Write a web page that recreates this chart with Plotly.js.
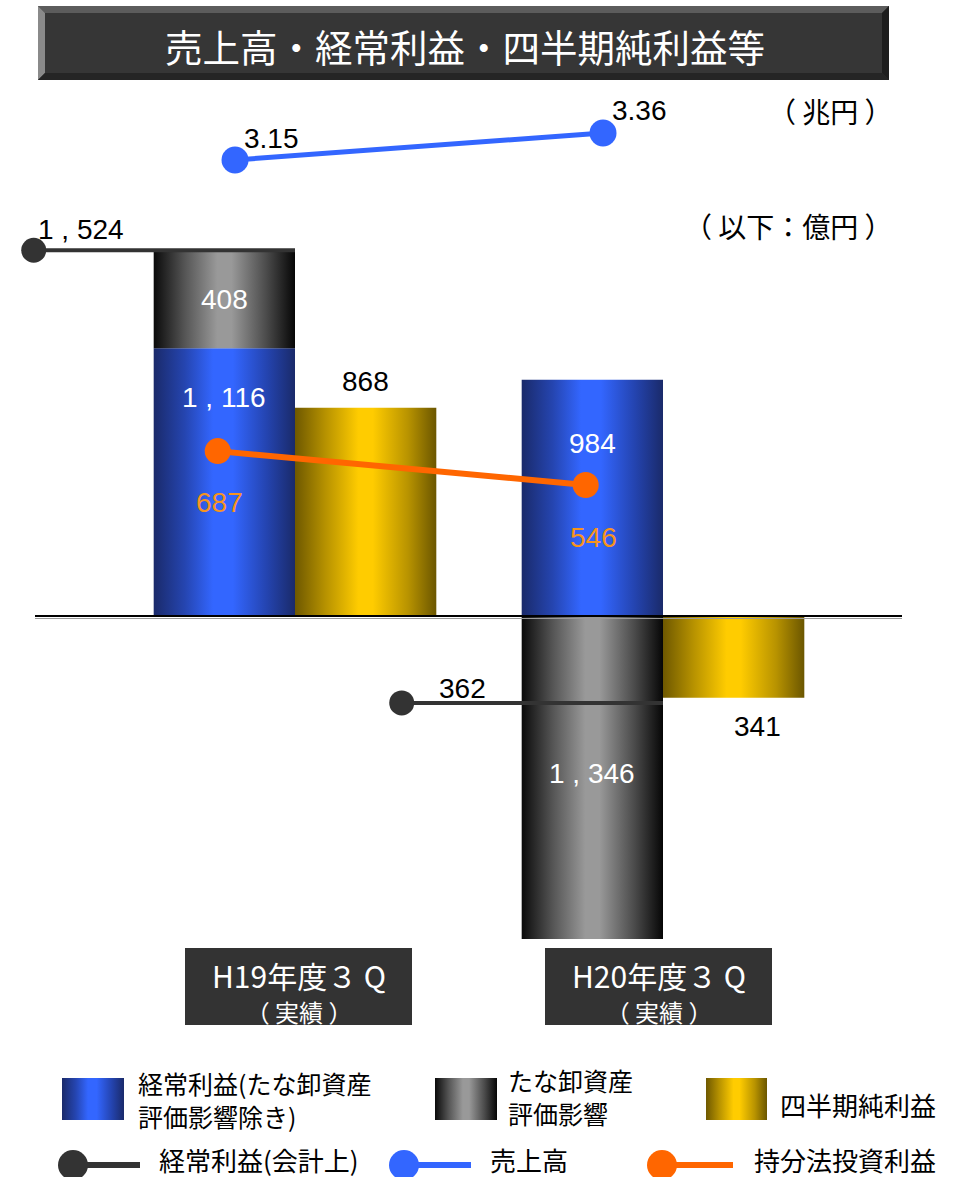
<!DOCTYPE html>
<html>
<head>
<meta charset="utf-8">
<script src="https://cdn.plot.ly/plotly-3.0.1.min.js"></script>
<style>
html,body{margin:0;padding:0;background:#fff;}
#chart{width:955px;height:1177px;}
</style>
</head>
<body>
<div id="chart"></div>
<script>
// ---------------- data ----------------
const categories = ['H19年度３ Q', 'H20年度３ Q'];
const categorySub = ['（ 実績 ）', '（ 実績 ）'];
const ordinaryExInventory = [1116, 984];   // 経常利益(たな卸資産評価影響除き) 億円
const inventoryImpact = [408, -1346];      // たな卸資産評価影響 億円
const quarterlyNetIncome = [868, -341];    // 四半期純利益 億円
const ordinaryAccounting = [1524, -362];   // 経常利益(会計上) 億円
const sales = [3.15, 3.36];                // 売上高 兆円
const equityIncome = [687, 546];           // 持分法投資利益 億円
const seriesNames = ['経常利益(たな卸資産<br>評価影響除き)', 'たな卸資産<br>評価影響', '四半期純利益',
                     '経常利益(会計上)', '売上高', '持分法投資利益'];
const titleText = '売上高・経常利益・四半期純利益等';
const unitTrillion = '（ 兆円 ）';
const unitHundredMillion = '（ 以下：億円 ）';

// ---------------- geometry / style ----------------
const W = 955, H = 1177;
const PX_X = 368;          // px per category step
const CAT0_PX = 295;       // pixel x of first category
const ZERO_PX = 616;       // pixel y of 0
const PX_Y = 0.24;         // px per 億円
const PX_Y2 = 27 / 0.21;   // px per 兆円
const Y2_REF_PX = 160;     // sales axis reference
const BW = 0.384;          // bar width (category units)
const F = '"Liberation Sans", "Noto Sans CJK JP", sans-serif';
const FJ = '"Noto Sans CJK JP", "Liberation Sans", sans-serif';

const PH_BLUE = '#3366fe', PH_GRAY = '#979797', PH_YEL = '#ffcc01'; // gradient placeholders

const xi = categories.map((_, i) => i);
const px = v => v / W;
const py = v => 1 - v / H;

const xRange = [-CAT0_PX / PX_X, (W - CAT0_PX) / PX_X];
const yRange = [(ZERO_PX - H) / PX_Y, ZERO_PX / PX_Y];
const y2Top = sales[0] + Y2_REF_PX / PX_Y2;
const y2Range = [y2Top - H / PX_Y2, y2Top];

const invBase = inventoryImpact.map((v, i) => v >= 0 ? ordinaryExInventory[i] : 0);
const fmt = v => Math.abs(v).toLocaleString('en-US').replace(',', ' , ');

// ---------------- traces ----------------
const traces = [
  {type: 'bar', name: seriesNames[0], x: xi, y: ordinaryExInventory, width: BW, offset: -BW,
   marker: {color: PH_BLUE, line: {width: 0}}, showlegend: false},
  {type: 'bar', name: seriesNames[1], x: xi, y: inventoryImpact, base: invBase, width: BW, offset: -BW,
   marker: {color: PH_GRAY, line: {width: 0}}, showlegend: false},
  {type: 'bar', name: seriesNames[2], x: xi, y: quarterlyNetIncome, width: BW, offset: 0,
   marker: {color: PH_YEL, line: {width: 0}}, showlegend: false},
  {type: 'scatter', mode: 'lines', name: seriesNames[3],
   x: xi.flatMap(i => [i - 0.71, i, null]),
   y: ordinaryAccounting.flatMap(v => [v, v, null]),
   line: {color: '#333333', width: 4}, cliponaxis: false, showlegend: false},
  {type: 'scatter', mode: 'markers', name: seriesNames[3],
   x: xi.map(i => i - 0.71), y: ordinaryAccounting,
   marker: {color: '#333333', size: 25, opacity: 1, line: {width: 0}},
   cliponaxis: false, showlegend: false},
  {type: 'scatter', mode: 'lines+markers', name: seriesNames[5],
   x: xi.map(i => i - 0.21), y: equityIncome,
   line: {color: '#ff6600', width: 6}, marker: {color: '#ff6600', size: 26, opacity: 1},
   cliponaxis: false, showlegend: false},
  {type: 'scatter', mode: 'lines+markers', name: seriesNames[4], yaxis: 'y2',
   x: xi.map(i => i - 0.163), y: sales,
   line: {color: '#3366ff', width: 5}, marker: {color: '#3366ff', size: 27, opacity: 1},
   cliponaxis: false, showlegend: false}
];

// ---------------- annotations ----------------
function ann(o) {
  return Object.assign({showarrow: false, xanchor: 'center', yanchor: 'middle',
    font: {family: F, size: 28, color: '#000'}}, o);
}
const annotations = [];
// title
annotations.push(ann({xref: 'paper', yref: 'paper', x: px(465), y: py(45), text: titleText,
  font: {family: FJ, size: 37.5, color: '#ffffff'}}));
// units
annotations.push(ann({xref: 'paper', yref: 'paper', x: px(895), y: py(111), xanchor: 'right',
  text: unitTrillion, font: {family: FJ, size: 28, color: '#000'}}));
annotations.push(ann({xref: 'paper', yref: 'paper', x: px(895), y: py(226), xanchor: 'right',
  text: unitHundredMillion, font: {family: FJ, size: 28, color: '#000'}}));

const accShift = [[47, 21], [61, 14]];
const invShift = [0, 4];
const exShift = [-49, -64];
const netShift = [[0, 26], [24, -29]];
const eqShift = [[2, -51], [8, -53]];
const salesShift = [[36, 22], [36, 23]];

xi.forEach(i => {
  annotations.push(ann({xref: 'x', yref: 'y', x: i - 0.71, y: ordinaryAccounting[i],
    xshift: accShift[i][0], yshift: accShift[i][1], text: fmt(ordinaryAccounting[i])}));
  annotations.push(ann({xref: 'x', yref: 'y', x: i - BW / 2, y: invBase[i] + inventoryImpact[i] / 2,
    yshift: invShift[i], text: fmt(inventoryImpact[i]), font: {family: F, size: 28, color: '#ffffff'}}));
  annotations.push(ann({xref: 'x', yref: 'y', x: i - BW / 2, y: ordinaryExInventory[i],
    yshift: exShift[i], text: fmt(ordinaryExInventory[i]), font: {family: F, size: 28, color: '#ffffff'}}));
  annotations.push(ann({xref: 'x', yref: 'y', x: i + BW / 2, y: quarterlyNetIncome[i],
    xshift: netShift[i][0], yshift: netShift[i][1], text: fmt(quarterlyNetIncome[i])}));
  annotations.push(ann({xref: 'x', yref: 'y', x: i - 0.21, y: equityIncome[i],
    xshift: eqShift[i][0], yshift: eqShift[i][1], text: fmt(equityIncome[i]),
    font: {family: F, size: 28, color: '#f7941d'}}));
  annotations.push(ann({xref: 'x', yref: 'y2', x: i - 0.163, y: sales[i],
    xshift: salesShift[i][0], yshift: salesShift[i][1], text: sales[i].toFixed(2)}));
});

// ---------------- shapes ----------------
const shapes = [];
function rectPx(x0, y0, x1, y1, fill, layer) {
  shapes.push({type: 'rect', xref: 'paper', yref: 'paper', x0: px(x0), x1: px(x1), y0: py(y0), y1: py(y1),
    fillcolor: fill, line: {width: 0}, layer: layer || 'above'});
}
function polyPx(pts, fill) {
  const d = pts.map((p, k) => (k ? 'L' : 'M') + px(p[0]) + ',' + py(p[1])).join(' ') + ' Z';
  shapes.push({type: 'path', xref: 'paper', yref: 'paper', path: d, fillcolor: fill, line: {width: 0}, layer: 'above'});
}
function linePx(x0, y0, x1, y1, color, width) {
  shapes.push({type: 'line', xref: 'paper', yref: 'paper', x0: px(x0), x1: px(x1), y0: py(y0), y1: py(y1),
    line: {color: color, width: width}, layer: 'above'});
}
function circlePx(cx, cy, r, fill) {
  shapes.push({type: 'circle', xref: 'paper', yref: 'paper', x0: px(cx - r), x1: px(cx + r), y0: py(cy + r), y1: py(cy - r),
    fillcolor: fill, line: {width: 0}, layer: 'above'});
}

// title box with bevel
const T = {x0: 38, y0: 6, x1: 889, y1: 80, b: 7};
rectPx(T.x0, T.y0, T.x1, T.y1, '#363636');
polyPx([[T.x0, T.y0], [T.x1, T.y0], [T.x1 - T.b, T.y0 + T.b], [T.x0 + T.b, T.y0 + T.b]], '#5c5c5c');
polyPx([[T.x0, T.y0], [T.x0 + T.b, T.y0 + T.b], [T.x0 + T.b, T.y1 - T.b], [T.x0, T.y1]], '#8a8a8a');
polyPx([[T.x0, T.y1], [T.x0 + T.b, T.y1 - T.b], [T.x1 - T.b, T.y1 - T.b], [T.x1, T.y1]], '#252525');
polyPx([[T.x1, T.y0], [T.x1, T.y1], [T.x1 - T.b, T.y1 - T.b], [T.x1 - T.b, T.y0 + T.b]], '#1e1e1e');

// zero line
shapes.push({type: 'line', xref: 'paper', yref: 'y', x0: px(35), x1: px(902), y0: 0, y1: 0,
  line: {color: '#000', width: 2}, layer: 'above'});
linePx(35, 618.5, 902, 618.5, '#9a9a9a', 1.2);

// category boxes
const catBoxLeft = [185, 545], catBoxW = 227, catBoxTop = 948, catBoxBot = 1025;
xi.forEach(i => {
  rectPx(catBoxLeft[i], catBoxTop, catBoxLeft[i] + catBoxW, catBoxBot, '#333333');
  const cx = catBoxLeft[i] + catBoxW / 2;
  annotations.push(ann({xref: 'paper', yref: 'paper', x: px(cx), y: py(991),
    text: '<span style="font-size:30px">' + categories[i] + '</span><br>' +
          '<span style="font-size:24px">' + categorySub[i] + '</span>',
    font: {family: FJ, size: 26, color: '#ffffff'}}));
});

// legend
rectPx(62, 1078, 124, 1120, PH_BLUE);
rectPx(435, 1078, 497, 1120, PH_GRAY);
rectPx(706, 1078, 767, 1120, PH_YEL);
const legFont = {family: FJ, size: 25, color: '#000'};
annotations.push(ann({xref: 'paper', yref: 'paper', x: px(136), y: py(1099), xanchor: 'left', align: 'left',
  text: seriesNames[0], font: legFont}));
annotations.push(ann({xref: 'paper', yref: 'paper', x: px(506), y: py(1096), xanchor: 'left', align: 'left',
  text: seriesNames[1], font: legFont}));
annotations.push(ann({xref: 'paper', yref: 'paper', x: px(778), y: py(1104), xanchor: 'left',
  text: seriesNames[2], font: {family: FJ, size: 26, color: '#000'}}));

const legFont2 = {family: FJ, size: 26, color: '#000'};
linePx(80, 1165, 140, 1165, '#333333', 6);
circlePx(73, 1165, 15, '#333333');
annotations.push(ann({xref: 'paper', yref: 'paper', x: px(157), y: py(1159), xanchor: 'left', text: seriesNames[3], font: legFont2}));
linePx(410, 1165, 471, 1165, '#3366ff', 6);
circlePx(404, 1165, 15, '#3366ff');
annotations.push(ann({xref: 'paper', yref: 'paper', x: px(488), y: py(1159), xanchor: 'left', text: seriesNames[4], font: legFont2}));
linePx(668, 1165, 733, 1165, '#ff6600', 6);
circlePx(662, 1165, 15, '#ff6600');
annotations.push(ann({xref: 'paper', yref: 'paper', x: px(752), y: py(1159), xanchor: 'left', text: seriesNames[5], font: legFont2}));

// ---------------- layout ----------------
const layout = {
  width: W, height: H,
  margin: {l: 0, r: 0, t: 0, b: 0, pad: 0},
  paper_bgcolor: '#ffffff', plot_bgcolor: 'rgba(0,0,0,0)',
  barmode: 'overlay', hovermode: false, showlegend: false,
  xaxis: {range: xRange, visible: false, fixedrange: true},
  yaxis: {range: yRange, visible: false, fixedrange: true, zeroline: false},
  yaxis2: {range: y2Range, visible: false, overlaying: 'y', side: 'right', fixedrange: true},
  shapes: shapes, annotations: annotations,
  font: {family: F}
};

// ---------------- gradients ----------------
function applyGradients(gd) {
  const NS = 'http://www.w3.org/2000/svg';
  const svg = gd.querySelector('svg.main-svg');
  let defs = svg.querySelector('defs');
  if (!defs) { defs = document.createElementNS(NS, 'defs'); svg.insertBefore(defs, svg.firstChild); }
  const grads = {
    'rgb(51, 102, 254)': ['gBlue', [[0, '#1a2a6a'], [0.22, '#2545b0'], [0.42, '#3366ff'], [0.56, '#3366ff'], [0.8, '#2444b0'], [1, '#1a2a6a']]],
    'rgb(151, 151, 151)': ['gGray', [[0, '#0a0a0a'], [0.22, '#555555'], [0.45, '#999999'], [0.55, '#999999'], [0.8, '#4a4a4a'], [1, '#060606']]],
    'rgb(255, 204, 1)': ['gYel', [[0, '#6e5800'], [0.22, '#b89300'], [0.45, '#ffcc00'], [0.55, '#ffcc00'], [0.8, '#b89300'], [1, '#6b5600']]]
  };
  Object.values(grads).forEach(([id, stops]) => {
    const lg = document.createElementNS(NS, 'linearGradient');
    lg.setAttribute('id', id);
    lg.setAttribute('x1', '0'); lg.setAttribute('y1', '0');
    lg.setAttribute('x2', '1'); lg.setAttribute('y2', '0');
    stops.forEach(([o, c]) => {
      const s = document.createElementNS(NS, 'stop');
      s.setAttribute('offset', o);
      s.setAttribute('stop-color', c);
      lg.appendChild(s);
    });
    defs.appendChild(lg);
  });
  gd.querySelectorAll('path').forEach(p => {
    const f = p.style.fill;
    if (grads[f]) p.style.fill = 'url(#' + grads[f][0] + ')';
  });
}

Plotly.newPlot('chart', traces, layout, {displayModeBar: false, staticPlot: true})
  .then(gd => applyGradients(gd));
</script>
</body>
</html>
